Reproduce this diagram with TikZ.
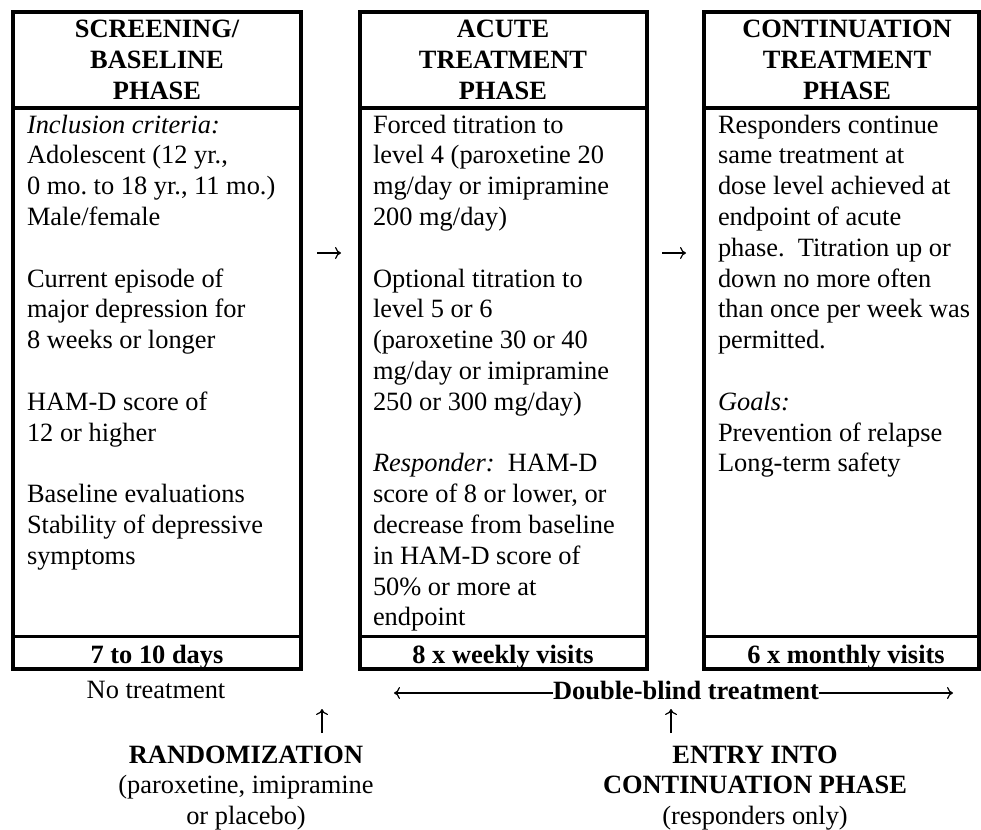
\documentclass[tikz,border=0pt]{standalone}
\usepackage{fontspec}
\setmainfont{Liberation Serif}
\usetikzlibrary{arrows.meta}
\tikzset{
  txt/.style={font=\fontsize{26.4}{30.8}\selectfont, inner sep=0pt, outer sep=0pt},
  bodytxt/.style={txt, align=left, anchor=north west},
  headtxt/.style={txt, align=center, anchor=north, font=\fontsize{26.4}{30.8}\selectfont\bfseries},
  foottxt/.style={txt, anchor=base, font=\fontsize{26.4}{30.8}\selectfont\bfseries},
  phasebox/.style={draw=black, line width=4pt, inner sep=0pt, outer sep=0pt},
  sepline/.style={draw=black, line width=3.5pt},
  glypharrow/.style={draw=black, line width=1.2pt, -{To[length=6pt,width=12pt]}},
  dbline/.style={glypharrow},
}
\newcommand{\fl}{\rule{0pt}{20pt}}
\begin{document}
\frenchspacing
\begin{tikzpicture}[x=1pt,y=-1pt]
\useasboundingbox (0,0) rectangle (981,829);
% boxes
\node[phasebox, minimum width=288pt, minimum height=657pt] (b1) at (157,340.5) {};
\node[phasebox, minimum width=287pt, minimum height=657pt] (b2) at (503,340.5) {};
\node[phasebox, minimum width=275pt, minimum height=657pt] (b3) at (841.5,340.5) {};
\foreach \b in {b1,b2,b3}{
  \draw[sepline] (\b.west |- 0,108) -- (\b.east |- 0,108);
  \draw[sepline] (\b.west |- 0,636.5) -- (\b.east |- 0,636.5);
}
% headers
\node[headtxt] (h1) at (157,18) {\fl SCREENING/\\BASELINE\\PHASE};
\node[headtxt] (h2) at (503,18) {\fl ACUTE\\TREATMENT\\PHASE};
\node[headtxt] (h3) at (847,18) {\fl CONTINUATION\\TREATMENT\\PHASE};
% bodies
\node[bodytxt] (t1) at (27,113) {\fl\textit{Inclusion criteria:}\\
Adolescent (12 yr.,\\
0 mo. to 18 yr., 11 mo.)\\
Male/female\\[30.8pt]
Current episode of\\
major depression for\\
8 weeks or longer\\[30.8pt]
HAM-D score of\\
12 or higher\\[30.8pt]
Baseline evaluations\\
Stability of depressive\\
symptoms};
\node[bodytxt] (t2) at (373,113) {\fl Forced titration to\\
level 4 (paroxetine 20\\
mg/day or imipramine\\
200 mg/day)\\[30.8pt]
Optional titration to\\
level 5 or 6\\
(paroxetine 30 or 40\\
mg/day or imipramine\\
250 or 300 mg/day)\\[30.8pt]
\textit{Responder:}\ \ HAM-D\\
score of 8 or lower, or\\
decrease from baseline\\
in HAM-D score of\\
50\% or more at\\
endpoint};
\node[bodytxt] (t3) at (718,113) {\fl Responders continue\\
same treatment at\\
dose level achieved at\\
endpoint of acute\\
phase.\ \ Titration up or\\
down no more often\\
than once per week was\\
permitted.\\[30.8pt]
\textit{Goals:}\\
Prevention of relapse\\
Long-term safety};
% footers
\node[foottxt] (f1) at (157,663) {7 to 10 days};
\node[foottxt] (f2) at (503,663) {8 x weekly visits};
\node[foottxt] (f3) at (846,663) {6 x monthly visits};
% arrows between boxes
\coordinate (a1s) at (317,253); \coordinate (a1e) at (341,253);
\coordinate (a2s) at (662,253); \coordinate (a2e) at (686,253);
\draw[glypharrow] (a1s) -- (a1e);
\draw[glypharrow] (a2s) -- (a2e);
% bottom
\node[txt, anchor=base] (nt) at (156,698) {No treatment};
\node[foottxt] (db) at (686,699) {Double-blind treatment};
\coordinate (dbL) at (394,693);
\coordinate (dbR) at (953,693);
\draw[dbline] (db.west |- dbL) -- (dbL);
\draw[dbline] (db.east |- dbR) -- (dbR);
\node[txt, align=center, anchor=north] (rand) at (246,743) {\fl\textbf{RANDOMIZATION}\\(paroxetine, imipramine\\or placebo)};
\node[txt, align=center, anchor=north] (entry) at (755,743) {\fl\textbf{ENTRY INTO}\\\textbf{CONTINUATION PHASE}\\(responders only)};
\coordinate (u1s) at (322,733); \coordinate (u1e) at (322,709);
\coordinate (u2s) at (671,733); \coordinate (u2e) at (671,709);
\draw[glypharrow] (u1s) -- (u1e);
\draw[glypharrow] (u2s) -- (u2e);
\end{tikzpicture}
\end{document}
